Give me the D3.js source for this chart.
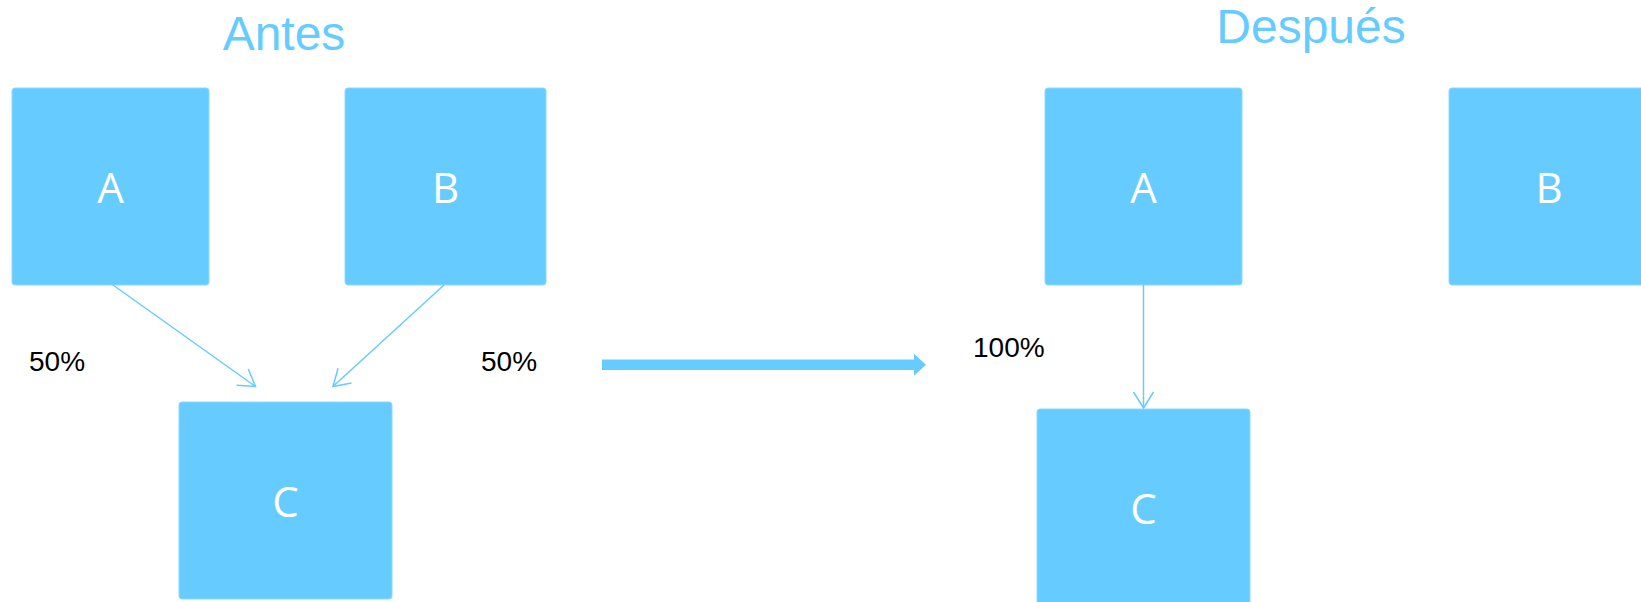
<!DOCTYPE html>
<html>
<head>
<meta charset="utf-8">
<script src="https://cdn.jsdelivr.net/npm/d3@7"></script>
<style>
    html, body { margin: 0; padding: 0; background: #fff; overflow: hidden; }
    #graph { width: 1641px; height: 602px; }
    .title { font-family: "Liberation Sans", Arial, sans-serif; font-size: 48px; fill: #66ccff; text-anchor: middle; }
    .node-label { font-family: "Open Sans", sans-serif; font-size: 42px; fill: #fff; text-anchor: middle; }
    .pct { font-family: "Liberation Sans", Arial, sans-serif; font-size: 28px; fill: #000; }
</style>
</head>
<body>
<div id="graph"></div>
<script>
window.addEventListener("load", initGraph);

// data
let panels = ["Antes", "Después"];
let nodeNames = ["A", "B", "C"];
let antesLinks = [{source: "A", target: "C", value: 50}, {source: "B", target: "C", value: 50}];
let despuesLinks = [{source: "A", target: "C", value: 100}];

const blue = "#66ccff";

// layout for each panel (box positions, label spots)
let layout = {
    "Antes": {
        titleX: 284, titleY: 50,
        boxes: {
            A: {x: 12, y: 88, w: 197, h: 197},
            B: {x: 345, y: 88, w: 201, h: 197},
            C: {x: 179, y: 402, w: 213, h: 197}
        },
        // where each arrow starts and stops
        ends: {
            A: [[113, 285], [255.5, 386.5]],
            B: [[444, 285], [333, 386.5]]
        },
        pctPos: {A: [29, 371], B: [481, 371]}
    },
    "Después": {
        titleX: 1311, titleY: 43,
        boxes: {
            A: {x: 1045, y: 88, w: 197, h: 197},
            B: {x: 1449, y: 88, w: 200, h: 197},
            C: {x: 1037, y: 409, w: 213, h: 197}
        },
        ends: {
            A: [[1143.5, 285], [1143.5, 408]]
        },
        pctPos: {A: [973, 357]}
    }
};

let svg;

function initGraph() {
    svg = d3.select("#graph").append("svg")
        .attr("width", 1641)
        .attr("height", 602);

    svg.append("defs").append("marker")
        .attr("id", "vhead")
        .attr("markerUnits", "userSpaceOnUse")
        .attr("viewBox", "-20 -12 22 24")
        .attr("refX", 0)
        .attr("refY", 0)
        .attr("markerWidth", 22)
        .attr("markerHeight", 24)
        .attr("orient", "auto")
        .append("path")
        .attr("d", "M-16,-10L0,0L-16,10")
        .attr("fill", "none")
        .attr("stroke", blue)
        .attr("stroke-width", 1.5);

    let linkSets = {"Antes": antesLinks, "Después": despuesLinks};

    panels.forEach(p => drawPanel(p, layout[p], linkSets[p]));

    drawBigArrow();
}

function drawPanel(name, lay, links) {
    let g = svg.append("g").attr("class", "panel");

    g.append("text")
        .attr("class", "title")
        .attr("x", lay.titleX)
        .attr("y", lay.titleY)
        .text(name);

    let nodes = g.selectAll(".node")
        .data(nodeNames)
        .enter().append("g")
        .attr("class", "node");

    nodes.append("rect")
        .attr("x", d => lay.boxes[d].x)
        .attr("y", d => lay.boxes[d].y)
        .attr("width", d => lay.boxes[d].w)
        .attr("height", d => lay.boxes[d].h)
        .attr("rx", 3)
        .attr("fill", blue)
        .attr("stroke", "#8ad8ff")
        .attr("stroke-width", 1);

    nodes.append("text")
        .attr("class", "node-label")
        .attr("x", d => lay.boxes[d].x + lay.boxes[d].w / 2)
        .attr("y", d => lay.boxes[d].y + lay.boxes[d].h / 2 + 16)
        .text(d => d);

    g.selectAll(".link")
        .data(links)
        .enter().append("line")
        .attr("class", "link")
        .attr("x1", d => lay.ends[d.source][0][0])
        .attr("y1", d => lay.ends[d.source][0][1])
        .attr("x2", d => lay.ends[d.source][1][0])
        .attr("y2", d => lay.ends[d.source][1][1])
        .attr("stroke", blue)
        .attr("stroke-width", 1.5)
        .attr("marker-end", "url(#vhead)");

    g.selectAll(".pct")
        .data(links)
        .enter().append("text")
        .attr("class", "pct")
        .attr("x", d => lay.pctPos[d.source][0])
        .attr("y", d => lay.pctPos[d.source][1])
        .text(d => `${d.value}%`);
}

function drawBigArrow() {
    // thick arrow between the two panels
    let x0 = 602, x1 = 914, tip = 926, cy = 364.7;
    let half = 5.3, headHalf = 11;
    let pts = [
        [x0, cy - half], [x1, cy - half], [x1, cy - headHalf], [tip, cy],
        [x1, cy + headHalf], [x1, cy + half], [x0, cy + half]
    ];
    svg.append("path")
        .attr("d", d3.line()(pts) + "Z")
        .attr("fill", blue);
}
</script>
</body>
</html>
